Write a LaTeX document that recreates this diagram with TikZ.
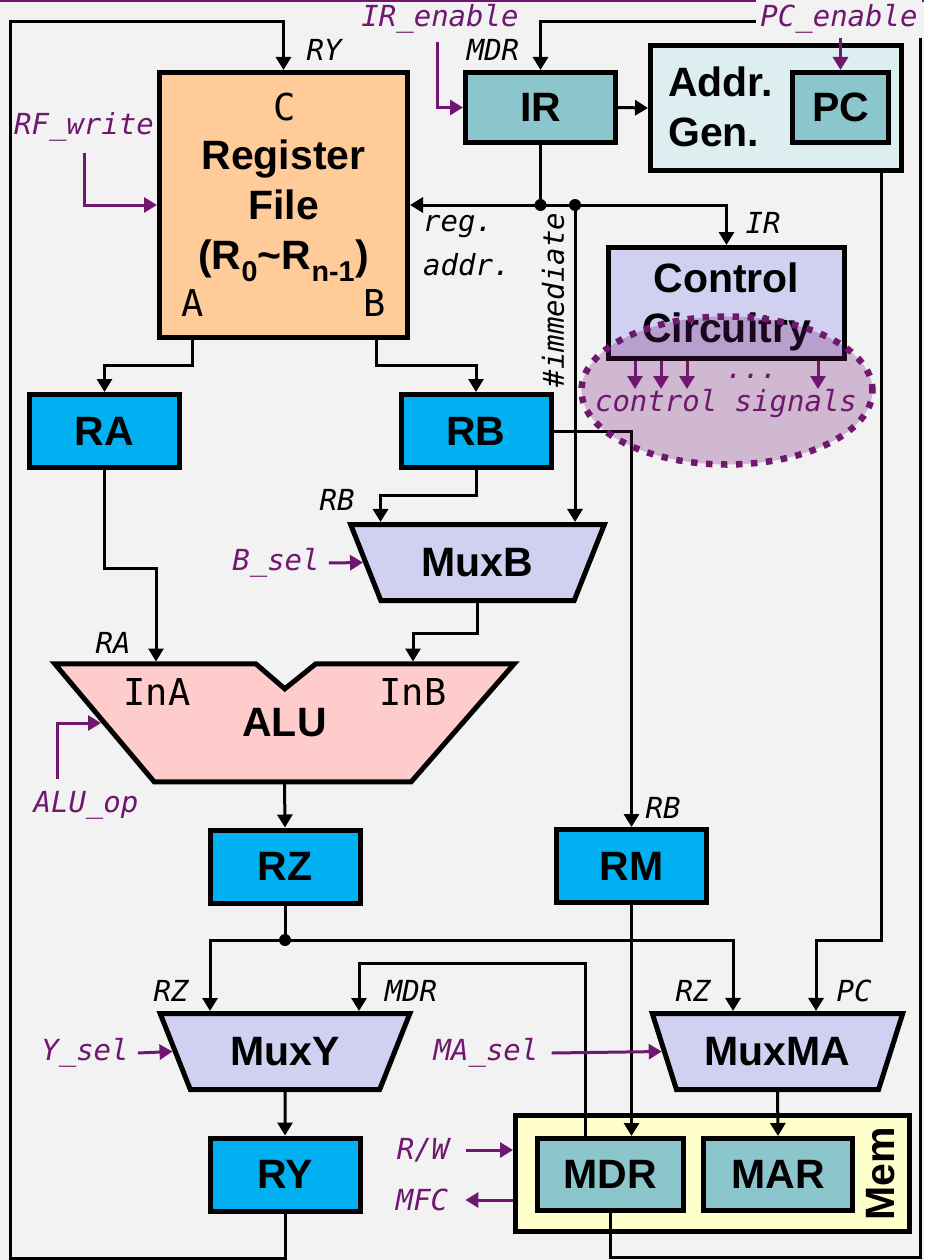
\documentclass[tikz,border=0pt]{standalone}
\usepackage{fontspec}
\setmainfont{Liberation Sans}
\newfontfamily\monofam{DejaVu Sans Mono}
\usetikzlibrary{arrows.meta,shapes.geometric}
\definecolor{bggray}{HTML}{F2F2F2}
\definecolor{sigpurple}{HTML}{701870}
\definecolor{rforange}{HTML}{FFCC99}
\definecolor{regblue}{HTML}{00B0F0}
\definecolor{regteal}{HTML}{8CC6CD}
\definecolor{agcyan}{HTML}{DDEEF0}
\definecolor{muxlav}{HTML}{D0D0F0}
\definecolor{alupink}{HTML}{FFCCCC}
\definecolor{memyellow}{HTML}{FFFFCC}
\newcommand\bigfont{\bfseries\fontsize{41}{50}\selectfont}
\newcommand\lblfont{\monofam\itshape\fontsize{29}{32}\selectfont}
\newcommand\portfont{\monofam\fontsize{37}{40}\selectfont}
\begin{document}
\begin{tikzpicture}[x=1pt,y=-1pt,
    blk/.style={draw, line width=5pt, inner sep=0pt, font=\bigfont, text depth=0pt, align=center},
    regbox/.style={blk, fill=regblue, minimum width=150pt, minimum height=73pt},
    tealbox/.style={blk, fill=regteal, minimum height=70pt},
    muxbox/.style={blk, fill=muxlav, trapezium, trapezium left angle=121.7, trapezium right angle=121.7, trapezium stretches=true, minimum height=76pt},
    wire/.style={line width=3pt, -{Triangle[length=13pt,width=15pt]}},
    bus/.style={line width=3pt},
    ctrl/.style={line width=3pt, sigpurple, -{Triangle[length=13pt,width=15pt]}},
    lbl/.style={font=\lblfont, inner sep=1pt},
    sig/.style={lbl, text=sigpurple},
    port/.style={font=\portfont, inner sep=0pt},
    junction/.style={circle, fill, inner sep=0pt, minimum size=12pt}]
    \useasboundingbox[fill=bggray] (0,0) rectangle (924,1260);
    \draw[sigpurple, line width=2pt] (0,1) -- (924,1);

    \node[blk, fill=rforange, minimum width=248pt, minimum height=265pt] (RF) at (283.5,205) {Register\\File\\(R\textsubscript{0}\textasciitilde R\textsubscript{n-1})};
    \node[port] (portC) at (285,107) {C};
    \node[port] (portA) at (193,303) {A};
    \node[port] (portB) at (375,303) {B};
    \node[tealbox, minimum width=150pt] (IR) at (540.5,107.5) {IR};
    \node[blk, fill=agcyan, minimum width=251pt, minimum height=125pt] (AG) at (776,108) {};
    \node[font=\bigfont, align=left, anchor=west, inner sep=0pt] (agtxt) at (668,107) {Addr.\\Gen.};
    \node[tealbox, minimum width=96pt] (PC) at (840.5,107.5) {PC};
    \node[blk, fill=muxlav, minimum width=236pt, minimum height=111pt] (Ctrl) at (726.5,303) {Control\\Circuitry};
    \node[regbox] (RA) at (104.5,431) {RA};
    \node[regbox] (RB) at (476,431) {RB};
    \node[muxbox, minimum width=254pt] (MuxB) at (477.5,562.5) {MuxB};
    \node[minimum width=459pt, minimum height=118pt, inner sep=0pt] (ALU) at (284.5,723) {};
    \draw[line width=5pt, fill=alupink] (ALU.north west) -- ++(201,0) -- ++(29,25) -- ++(31,-25) -- (ALU.north east) -- ++(-103,118) -- ++(-257,0) -- cycle;
    \node[font=\bigfont] (alutxt) at (ALU) {ALU};
    \node[port] (inA) at (157,692) {InA};
    \node[port] (inB) at (413,692) {InB};
    \node[regbox] (RZ) at (285,866.5) {RZ};
    \node[regbox] (RM) at (631.5,866) {RM};
    \node[muxbox, minimum width=250pt] (MuxY) at (285,1051.5) {MuxY};
    \node[muxbox, minimum width=251pt] (MuxMA) at (777.5,1051.5) {MuxMA};
    \node[regbox] (RY) at (285,1174.5) {RY};
    \node[blk, fill=memyellow, minimum width=394pt, minimum height=116pt] (Mem) at (712.5,1173.5) {};
    \node[font=\bigfont, rotate=90, inner sep=0pt] (memtxt) at (881,1174) {Mem};
    \node[tealbox, minimum width=146pt, minimum height=72pt] (MDR) at (610.5,1174.5) {MDR};
    \node[tealbox, minimum width=149pt, minimum height=72pt] (MAR) at (778,1174.5) {MAR};

    \coordinate (ryBL) at (10,1258);
    \coordinate (ryTL) at (10,22);
    \draw[wire] (RY.south) |- (ryBL) -- (ryTL) -| (RF.north);
    \coordinate (mdrBR) at (920,1257);
    \coordinate (mdrTR) at (920,22);
    \draw[wire] (MDR.south) |- (mdrBR) -- (mdrTR) -| (IR.north);
    \node[lbl] (lRY) at (324,50) {RY};
    \node[lbl] (lMDR) at (493,50) {MDR};

    \draw[wire] (IR.east) -- (AG.west);
    \coordinate (jIR) at (540.5,205);
    \coordinate (jImm) at (575,205);
    \draw[bus] (IR.south) -- (jIR);
    \draw[wire] (jIR) -- (RF.east);
    \draw[wire] (jIR) -| (Ctrl.north);
    \draw[wire] (jImm) -- (jImm |- MuxB.north);
    \node[junction] (d1) at (jIR) {};
    \node[junction] (d2) at (jImm) {};
    \node[lbl] (lIR) at (763,223) {IR};
    \node[lbl, anchor=west] (lreg) at (422,226) {reg.};
    \node[lbl, anchor=west] (laddr) at (422,265) {addr.};
    \node[lbl, rotate=90] (limm) at (553,300) {\#immediate};

    \draw[wire] ([xshift=-91.5pt]RF.south) -- ++(0,25) -| (RA.north);
    \draw[wire] ([xshift=92.5pt]RF.south) -- ++(0,25) -| (RB.north);
    \coordinate (aluA) at (156,661.5);
    \coordinate (aluB) at (413,661.5);
    \draw[wire] (RA.south) -- ++(0,98) -| (aluA);
    \draw[wire] (RB.south) -- ++(0,25) -| ([xshift=-97pt]MuxB.north);
    \draw[wire] (MuxB.south) -- ++(0,30) -| (aluB);
    \draw[wire] (RB.east) -| (RM.north);
    \node[lbl] (lRB1) at (337,500) {RB};
    \node[lbl] (lRA) at (113,643) {RA};
    \node[lbl] (lRB2) at (663,808) {RB};
    \draw[wire] (ALU.south) -- (RZ.north);

    \coordinate (jRZ) at (285,940);
    \draw[bus] (RZ.south) -- (jRZ);
    \draw[wire] (jRZ) -| ([xshift=-75pt]MuxY.north);
    \draw[wire] (jRZ) -| ([xshift=-44.5pt]MuxMA.north);
    \node[junction] (d3) at (jRZ) {};
    \draw[wire] ([xshift=105pt]AG.south) -- ++(0,767) -| ([xshift=38.5pt]MuxMA.north);
    \draw[wire] ([xshift=-25.5pt]MDR.north) -- ++(0,-173) -| ([xshift=74pt]MuxY.north);
    \draw[wire] (RM.south) -- (RM.south |- MDR.north);
    \draw[wire] (MuxY.south) -- (RY.north);
    \draw[wire] (MuxMA.south) -- (MAR.north);
    \node[lbl] (lRZ1) at (171,991) {RZ};
    \node[lbl] (lMDR2) at (411,991) {MDR};
    \node[lbl] (lRZ2) at (693,991) {RZ};
    \node[lbl] (lPC) at (854,991) {PC};

    \node[sig] (sRF) at (84,127) {RF\_write};
    \draw[ctrl] ([yshift=-10pt]sRF.south) |- (RF.west);
    \node[sig] (sIR) at (440,19) {IR\_enable};
    \draw[ctrl] ([xshift=-3pt,yshift=-7pt]sIR.south) |- (IR.west);
    \node[sig, fill=bggray, inner sep=4pt] (sPC) at (839,19) {PC\_enable};
    \draw[ctrl] (sPC.south -| PC.north) -- (PC.north);
    \node[sig] (sB) at (276,563) {B\_sel};
    \draw[ctrl] ([xshift=8pt]sB.east) -- (MuxB.left side);
    \node[sig] (sALU) at (86,805) {ALU\_op};
    \coordinate (aluop) at (101,723);
    \draw[ctrl] ([xshift=-29pt,yshift=11pt]sALU.north) |- (aluop);
    \node[sig] (sY) at (85,1053) {Y\_sel};
    \draw[ctrl] ([xshift=8pt]sY.east) -- (MuxY.left side);
    \node[sig] (sMA) at (486,1053) {MA\_sel};
    \draw[ctrl] ([xshift=12pt]sMA.east) -- (MuxMA.left side);
    \node[sig] (sRW) at (423,1150) {R/W};
    \draw[ctrl] ([xshift=16pt]sRW.east) -- (sRW.east -| Mem.west);
    \node[sig] (sMFC) at (422,1200) {MFC};
    \draw[ctrl] (sMFC.east -| Mem.west) -- ([xshift=16pt]sMFC.east);

    \node[ellipse, draw=sigpurple, fill=sigpurple, fill opacity=0.26, line width=6.5pt, dash pattern=on 6.5pt off 8.5pt, minimum width=291pt, minimum height=148pt] (sigs) at (727,390.5) {};
    \foreach \x in {635,661,687,818}
        \draw[ctrl] (\x,361) -- (\x,389);
    \node[sig] (ldots) at (752,376) {...};
    \node[sig] (lsigs) at (726,404) {control signals};
\end{tikzpicture}
\end{document}
